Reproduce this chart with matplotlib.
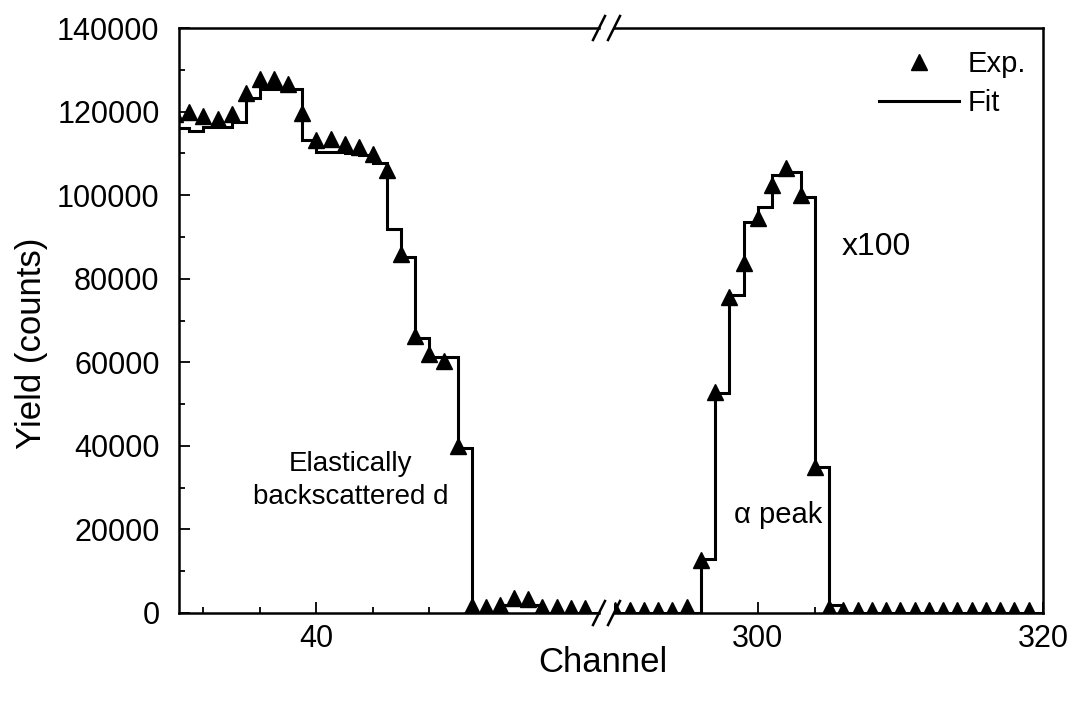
import matplotlib

matplotlib.use("Agg")
import matplotlib.pyplot as plt
from matplotlib.lines import Line2D
from matplotlib.ticker import MultipleLocator
import numpy as np

plt.rcParams["font.family"] = ["Liberation Sans", "DejaVu Sans"]

# low channels: elastically backscattered deuterons
ch_low = np.arange(30, 60)
exp_low = [
    119500, 120000, 118900, 118300, 119400, 124400, 127700, 127700, 126500, 119600,
    113300, 113500, 112200, 111500, 109900, 105900, 86000, 66300, 61900, 60300,
    39900, 1600, 1400, 1900, 3500, 3300, 1400, 1400, 1300, 1200,
]
# fit value per channel bin [c, c+1)
fit_low = [
    116000, 115400, 116400, 116400, 117600, 123200, 125300, 125300, 125300, 113200,
    110400, 110300, 110000, 109500, 107700, 92000, 85300, 65700, 61300, 61300,
    39400, 0, 0, 2000, 2000, 2000, 0, 0, 0, 0,
]

# high channels: alpha peak (yield x100)
ch_high = np.arange(290, 320)
exp_high = [
    700, 700, 700, 700, 800, 1500, 12700, 53000, 75700, 83700,
    94500, 102400, 106400, 100000, 35000, 1200, 700, 700, 700, 700,
    700, 700, 700, 700, 700, 700, 700, 700, 700, 700,
]
fit_high = [
    0, 0, 0, 0, 0, 0, 13000, 52600, 76000, 93600,
    97200, 104800, 105500, 99500, 35000, 2000, 0, 0, 0, 0,
    0, 0, 0, 0, 0, 0, 0, 0, 0, 0,
]

W, H = 1072, 703
LW = 1.8
FIT_LW = 2.2
MS = 11.5

fig = plt.figure(figsize=(W / 100, H / 100), dpi=100)
ax_l = fig.add_axes([179 / W, 1 - 613 / H, (599 - 179) / W, (613 - 28) / H])
ax_r = fig.add_axes([614 / W, 1 - 613 / H, (1043 - 614) / W, (613 - 28) / H], sharey=ax_l)

for ax, ch, exp, fit in ((ax_l, ch_low, exp_low, fit_low), (ax_r, ch_high, exp_high, fit_high)):
    edges = np.append(ch, ch[-1] + 1)
    ax.stairs(fit, edges, baseline=None, color="black", lw=FIT_LW, zorder=2)
    ax.plot(ch, exp, ls="none", marker="^", ms=MS, color="black", zorder=3)
    for sp in ax.spines.values():
        sp.set_linewidth(LW)
    ax.tick_params(which="both", direction="in", width=1.3, labelsize=22)
    ax.tick_params(which="major", length=8)
    ax.tick_params(which="minor", length=4.5)
    ax.tick_params(axis="x", pad=8)

ax_l.set_xlim(30.27, 60.0)
ax_r.set_xlim(289.9, 320)
ax_l.set_ylim(0, 140000)

ax_l.set_xticks([40])
ax_l.set_xticks([32, 36, 44, 48], minor=True)
ax_r.set_xticks([300, 320])
ax_r.set_xticks([292, 296, 304, 308, 312, 316], minor=True)
ax_l.yaxis.set_major_locator(MultipleLocator(20000))
ax_l.yaxis.set_minor_locator(MultipleLocator(10000))
ax_l.tick_params(axis="y", pad=14)

ax_l.spines["right"].set_visible(False)
ax_r.spines["left"].set_visible(False)
ax_r.tick_params(axis="y", which="both", left=False, labelleft=False)


# "//" axis-break marks at the ends of the broken spines
def _slash(ax, x):
    bb = ax.get_position()
    dx = 6 / (bb.width * W)
    dy = 12 / (bb.height * H)
    for y in (0, 1):
        ax.plot([x - dx, x + dx], [y - dy, y + dy], transform=ax.transAxes,
                color="black", lw=LW, clip_on=False)


_slash(ax_l, 1.0)
_slash(ax_r, 0.0)

ax_l.text(42.4, 31600, "Elastically\nbackscattered d", ha="center", va="center",
          fontsize=20, linespacing=1.35)
ax_r.text(305.9, 87500, "x100", ha="left", va="center", fontsize=23)
ax_r.text(301.4, 23500, "α peak", ha="center", va="center", fontsize=21)

handles = [
    Line2D([], [], ls="none", marker="^", ms=MS, color="black"),
    Line2D([], [], color="black", lw=FIT_LW),
]
ax_r.legend(handles, ["Exp.", "Fit"], loc="upper right", frameon=False, fontsize=21,
            handlelength=2.75, handletextpad=0.3, labelspacing=0.38,
            bbox_to_anchor=(1.009, 0.997), borderaxespad=0.3)

fig.text(603 / W, 1 - 662 / H, "Channel", ha="center", va="center", fontsize=25)
fig.text(32 / W, 1 - 343 / H, "Yield (counts)", ha="center", va="center",
         rotation=90, fontsize=25)

fig.savefig("out.png", dpi=100)
